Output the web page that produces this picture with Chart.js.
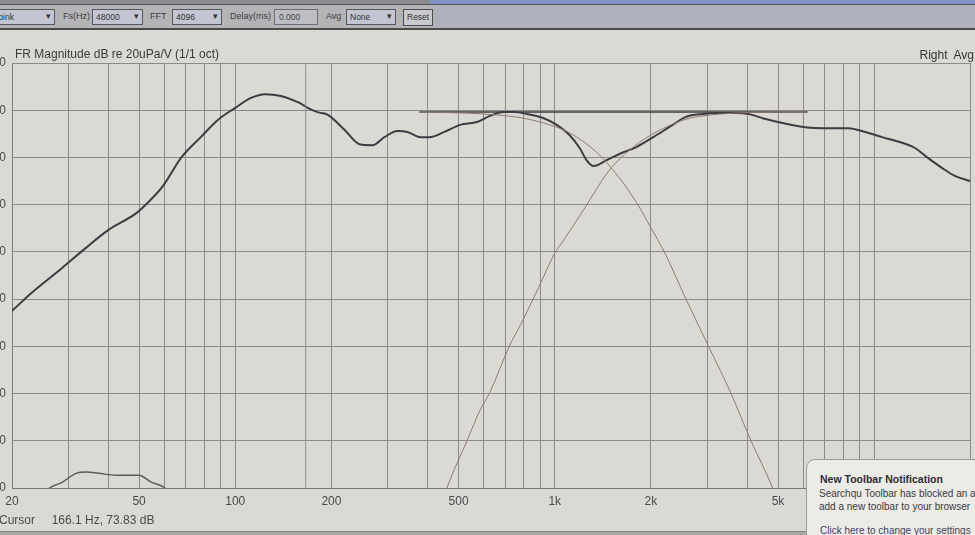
<!DOCTYPE html>
<html>
<head>
<meta charset="utf-8">
<script src="https://cdn.jsdelivr.net/npm/chart.js@4/dist/chart.umd.min.js"></script>
<style>
  html, body { margin: 0; padding: 0; width: 975px; height: 535px; overflow: hidden; background: #dbd9d4; font-family: "Liberation Sans", Arial, sans-serif; }
  #wrap { position: absolute; left: -24px; top: 0; width: 1010px; height: 535px; }
  .bar { position: absolute; left: 0; top: 0; width: 975px; height: 30px; background: #b4b4b7; border-bottom: 2px solid #4a4a4e; box-sizing: border-box; z-index: 2; }
  .bar .strip { position: absolute; left: 0; top: 0; width: 975px; height: 4px; background: #8a8c92; border-bottom: 1px solid #505256; }
  .bar .strip2 { position: absolute; left: 430px; top: 0; width: 545px; height: 4px; background: #7f93c4; }
  .bar .right { position: absolute; left: 434px; top: 5px; width: 541px; height: 23px; background: #aeb0bb; }
  .ctl { position: absolute; top: 11px; font-size: 9px; color: #3c3c44; }
  .sel { position: absolute; top: 9px; height: 16px; box-sizing: border-box; border: 1px solid #55565c; background: #c3c6d2; font-size: 8.5px; color: #333; padding: 2px 3px; }
  .sel::after { content: "\25BE"; position: absolute; right: 3px; top: 1px; font-size: 9px; color: #333; }
  .inp { position: absolute; top: 9px; height: 16px; box-sizing: border-box; border: 1px solid #6c6d72; background: #bdbec4; font-size: 8.5px; color: #444; padding: 2px 4px; }
  .btn { position: absolute; top: 9px; height: 17px; box-sizing: border-box; border: 1px solid #4c4d52; background: #c9cad0; font-size: 8.5px; color: #333; padding: 2px 3px; }
  .title { position: absolute; left: 15px; top: 47px; font-size: 12px; color: #3a3a3c; z-index: 2; }
  .chan { position: absolute; right: 1px; top: 48px; font-size: 12px; color: #333; z-index: 2; }
  .cursor { position: absolute; left: -1px; top: 513px; font-size: 12px; color: #4a4a4c; z-index: 2; white-space: pre; }
  .foot { position: absolute; left: 0; top: 531px; width: 975px; height: 4px; background: #a9a8a6; border-top: 1px solid #808080; z-index: 1; }
  .pop { position: absolute; left: 806px; top: 459px; width: 180px; height: 90px; background: #ecebe6; border: 1px solid #9a9a9a; border-top-left-radius: 9px; box-sizing: border-box; z-index: 3; overflow: hidden; white-space: nowrap; }
  .pop .h { position: absolute; left: 13px; top: 13px; font-size: 10.5px; font-weight: bold; color: #2c2c34; }
  .pop .t { position: absolute; left: 12px; font-size: 10px; color: #3a3a44; }
  .pop .l { position: absolute; left: 13px; top: 65px; font-size: 10px; color: #3d3f66; text-decoration: underline; }
</style>
</head>
<body>
<div class="bar">
  <div class="strip"></div><div class="strip2"></div><div class="right"></div>
  <div class="sel" style="left:-8px;width:63px;">&nbsp;pink</div>
  <div class="ctl" style="left:63px;">Fs(Hz)</div>
  <div class="sel" style="left:92px;width:51px;">48000</div>
  <div class="ctl" style="left:150px;">FFT</div>
  <div class="sel" style="left:172px;width:50px;">4096</div>
  <div class="ctl" style="left:230px;">Delay(ms)</div>
  <div class="inp" style="left:274px;width:44px;">0.000</div>
  <div class="ctl" style="left:326px;">Avg</div>
  <div class="sel" style="left:346px;width:50px;">None</div>
  <div class="btn" style="left:403px;width:30px;">Reset</div>
</div>
<div class="title">FR Magnitude dB re 20uPa/V (1/1 oct)</div>
<div class="chan">Right&nbsp; Avg</div>
<div id="wrap"><canvas id="frChart"></canvas></div>
<div class="cursor">Cursor     166.1 Hz, 73.83 dB</div>
<div class="foot"></div>
<div class="pop">
  <div class="h">New Toolbar Notification</div>
  <div class="t" style="top:28px;">Searchqu Toolbar has blocked an attempt to</div>
  <div class="t" style="top:41px;">add a new toolbar to your browser</div>
  <div class="l">Click here to change your settings</div>
</div>
<script>
// measured response, 1/1 oct smoothed (Hz / dB)
const measFreq = [20, 23, 28.7, 34, 40, 49, 53, 59, 68, 78, 88, 100, 112, 124, 139, 157, 171, 181, 195,
  220, 245, 269, 293, 322, 346, 380, 405, 451, 506, 571, 627, 693, 745, 818, 924, 1015, 1114, 1197,
  1259, 1323, 1452, 1640, 1801, 2035, 2282, 2576, 2911, 3265, 3690, 4049, 4478, 5167, 6096, 7194,
  8299, 9376, 10593, 12226, 13420, 14730, 16290, 17870, 20000];
const measDb = [37.5, 41.3, 46.6, 50.8, 54.6, 58.2, 60.3, 63.7, 70.1, 74.3, 77.9, 80.5, 82.6, 83.4, 83.0, 81.7, 80.3, 79.6, 79.0,
  75.8, 72.8, 72.6, 74.3, 75.6, 75.4, 74.3, 74.3, 75.4, 76.9, 77.5, 78.8, 79.6, 79.6, 79.2, 78.3, 76.9, 74.7, 72.0,
  69.4, 68.2, 69.4, 71.1, 72.2, 74.3, 76.4, 78.6, 79.2, 79.4, 79.4, 79.2, 78.3, 77.3, 76.4, 76.2,
  76.2, 75.4, 74.3, 73.1, 72.0, 69.9, 67.8, 66.1, 65.0];

// target low-pass (woofer) and high-pass (tweeter)
const lowFreq = [377, 521, 659, 800, 965, 1114, 1352, 1580, 1801, 2005, 2203, 2576, 3040, 3560, 4109, 4810, 5300];
const lowDb = [79.6, 79.4, 79.0, 78.3, 76.9, 75.2, 71.1, 66.0, 60.5, 55.0, 50.0, 40.0, 29.8, 20.1, 10.1, 0.0, -8];
const highFreq = [430, 461, 532, 584, 627, 724, 789, 891, 1000, 1067, 1231, 1483, 1762, 2079, 2576, 2911, 3690, 4920, 6185];
const highDb = [-6, 0.2, 10.1, 16.5, 20.3, 30.3, 35.1, 42.5, 49.7, 52.5, 58.9, 67.3, 72.2, 75.4, 78.1, 78.8, 79.4, 79.6, 79.6];

// flat target level
const targetFreq = [377, 6185];
const targetDb = [79.6, 79.6];

// small trace at the bottom
const humpFreq = [25, 26.5, 28.7, 31.7, 34.1, 37.4, 42.3, 49.9, 54.7, 59.7, 62];
const humpDb = [-1, 0.2, 1.2, 3.1, 3.4, 3.1, 2.7, 2.7, 1.2, 0.2, -1];

const cursorHz = 166.1;

const gridFreqs = [20, 30, 40, 50, 60, 70, 80, 90, 100, 200, 300, 400, 500, 600, 700, 800, 900,
  1000, 2000, 3000, 4000, 5000, 6000, 7000, 8000, 9000, 10000, 20000];
const freqLabels = { 20: "20", 50: "50", 100: "100", 200: "200", 500: "500", 1000: "1k", 2000: "2k", 5000: "5k", 10000: "10k", 20000: "20k" };
const dbTicks = [0, 10, 20, 30, 40, 50, 60, 70, 80, 90];

const pts = (xs, ys) => xs.map((f, i) => ({ x: f, y: ys[i] }));

const ctx = document.getElementById("frChart").getContext("2d");
new Chart(ctx, {
  type: "line",
  data: {
    datasets: [
      { data: [{ x: cursorHz, y: 0 }, { x: cursorHz, y: 90 }], borderColor: "#8c8c8c", borderWidth: 1 },
      { data: pts(lowFreq, lowDb), borderColor: "#8f7a72", borderWidth: 1 },
      { data: pts(highFreq, highDb), borderColor: "#8f7a72", borderWidth: 1 },
      { data: pts(targetFreq, targetDb), borderColor: "#3e3e42", borderWidth: 1.5 },
      { data: pts(humpFreq, humpDb), borderColor: "#5a5a5e", borderWidth: 1.5 },
      { data: pts(measFreq, measDb), borderColor: "#3c3c42", borderWidth: 2 }
    ]
  },
  options: {
    responsive: true,
    maintainAspectRatio: false,
    animation: false,
    elements: { point: { radius: 0 }, line: { cubicInterpolationMode: "monotone", fill: false } },
    layout: { padding: { left: 12, top: 63, right: 9, bottom: 25 } },
    scales: {
      x: {
        type: "logarithmic",
        min: 20,
        max: 20000,
        afterBuildTicks: scale => { scale.ticks = gridFreqs.map(v => ({ value: v })); },
        afterFit: scale => { scale.height = 22; },
        ticks: {
          autoSkip: false,
          maxRotation: 0,
          padding: 6,
          color: "#4a4a4e",
          font: { family: "Liberation Sans", size: 12 },
          callback: value => freqLabels[value] || ""
        },
        grid: { color: "#8a8a8c", lineWidth: 1, drawTicks: false },
        border: { color: "#7a7a7c" }
      },
      y: {
        min: 0,
        max: 90,
        afterBuildTicks: scale => { scale.ticks = dbTicks.map(v => ({ value: v })); },
        afterFit: scale => { scale.width = 24; },
        ticks: { padding: 6, color: "#4a4a4e", font: { family: "Liberation Sans", size: 12 } },
        grid: { color: "#8a8a8c", lineWidth: 1, drawTicks: false },
        border: { color: "#7a7a7c" }
      }
    },
    plugins: {
      legend: { display: false },
      tooltip: { enabled: false }
    }
  }
});
</script>
</body>
</html>
